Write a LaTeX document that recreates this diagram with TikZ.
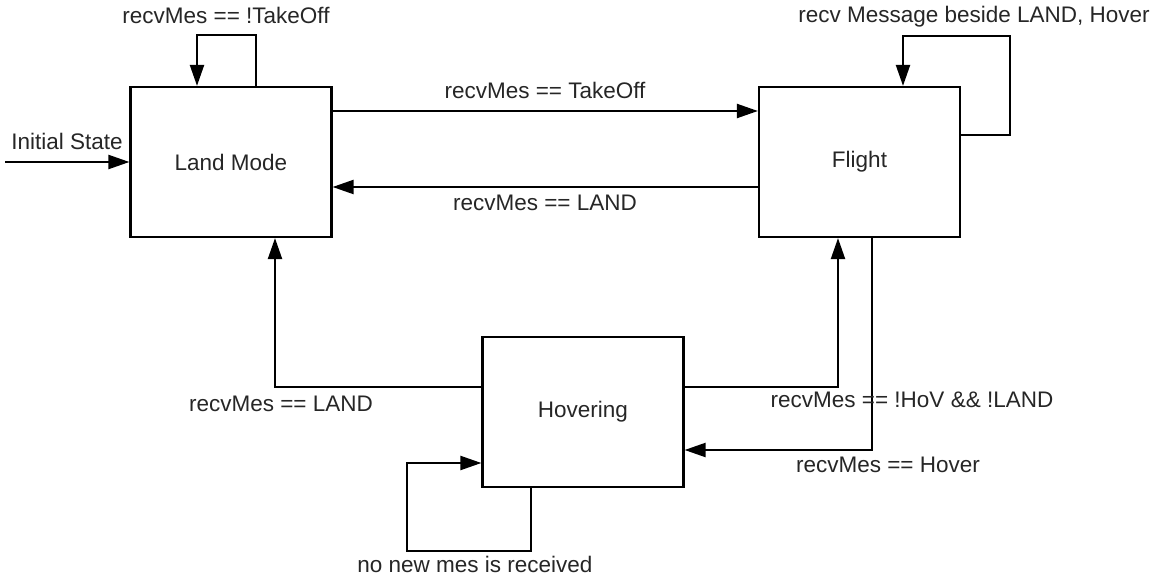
\documentclass[tikz,border=0pt]{standalone}
\usepackage{fontspec}
\setmainfont{Liberation Sans}
\usetikzlibrary{arrows.meta}
\begin{document}
\begin{tikzpicture}[x=1pt,y=-1pt,
  state/.style={draw=black,line width=2.2pt,rectangle,minimum width=201pt,minimum height=150pt,inner sep=0pt,font=\fontsize{22.5}{25}\selectfont,text=black!85},
  arr/.style={draw=black,line width=2.2pt,-{Triangle[length=21pt,width=14pt]}},
  lbl/.style={font=\fontsize{22.5}{25}\selectfont,text=black!85,inner sep=0pt}]
\useasboundingbox (0,0) rectangle (1152,577);
\node[state] (land) at (231,162) {Land Mode};
\node[state] (flight) at (859.5,162) {Flight};
\node[state] (hover) at (583,412) {Hovering};
\coordinate (init) at (5,162);
\draw[arr] (init) -- (land.west);
\draw[arr] (land.east |- 0,111) -- (flight.west |- 0,111);
\draw[arr] (flight.west |- 0,187) -- (land.east |- 0,187);
\draw[arr] (256,0 |- land.north) |- (197,35) -- (197,0 |- land.north);
\draw[arr] (flight.east |- 0,135) -| (1010,36) -| (903,0 |- flight.north);
\draw[arr] (hover.west |- 0,387) -| (275,0 |- land.south);
\draw[arr] (hover.east |- 0,387) -| (838,0 |- flight.south);
\draw[arr] (872,0 |- flight.south) |- (hover.east |- 0,450);
\draw[arr] (531,0 |- hover.south) |- (407,551) |- (hover.west |- 0,463);
\node[lbl] (l1) at (226,15) {recvMes == !TakeOff};
\node[lbl] (l2) at (67,141) {Initial State};
\node[lbl] (l3) at (545,90) {recvMes == TakeOff};
\node[lbl] (l4) at (545,203) {recvMes == LAND};
\node[lbl] (l5) at (974,17) {recv Message beside LAND, Hover};
\node[lbl] (l6) at (281,404) {recvMes == LAND};
\node[lbl] (l7) at (912,400) {recvMes == !HoV \&\& !LAND};
\node[lbl] (l8) at (888,465) {recvMes == Hover};
\node[lbl] (l9) at (475,564) {no new mes is received};
\end{tikzpicture}
\end{document}
